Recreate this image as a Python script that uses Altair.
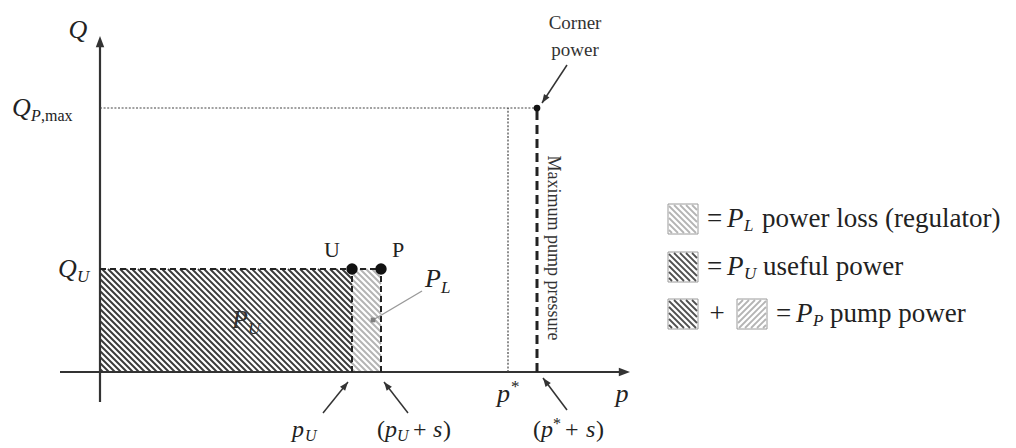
import altair as alt
import numpy as np
import pandas as pd

# Operating-point values, in drawing units (1 unit = 1 px on both axes)
p_U = 252       # load pressure p_U
s = 29          # regulator pressure margin s
p_star = 408    # pressure setting p*
Q_U = 103       # load flow Q_U
Q_Pmax = 264    # maximum pump flow Q_P,max

FONT = "Liberation Serif"
INK = "#222222"

X_DOMAIN = [-100, 916]
Y_DOMAIN = [-76, 372]


def xenc(field="x"):
    return alt.X(f"{field}:Q", scale=alt.Scale(domain=X_DOMAIN, nice=False, zero=False), axis=None)


def yenc(field="y"):
    return alt.Y(f"{field}:Q", scale=alt.Scale(domain=Y_DOMAIN, nice=False, zero=False), axis=None)


def hatch(x0, x1, y0, y1, step, slope):
    """Diagonal hatch segments clipped to a rectangle (slope -1 draws \\\\, +1 draws ///)."""
    rows = []
    if slope < 0:
        for c in np.arange(x0 + y0 + step / 2, x1 + y1, step):
            xa, xb = max(x0, c - y1), min(x1, c - y0)
            if xb > xa:
                rows.append({"x": xa, "y": c - xa, "x2": xb, "y2": c - xb})
    else:
        for c in np.arange(y0 - x1 + step / 2, y1 - x0, step):
            xa, xb = max(x0, y0 - c), min(x1, y1 - c)
            if xb > xa:
                rows.append({"x": xa, "y": c + xa, "x2": xb, "y2": c + xb})
    return pd.DataFrame(rows)


def segments(df, color, width, dash=None, cap="butt"):
    kw = dict(color=color, strokeWidth=width, strokeCap=cap)
    if dash:
        kw["strokeDash"] = dash
    return alt.Chart(df).mark_rule(**kw).encode(
        x=xenc("x"), y=yenc("y"), x2="x2:Q", y2="y2:Q"
    )


layers = []

# --- hatched power areas -------------------------------------------------
DARK_HATCH = "#3a3a3a"
LIGHT_HATCH = "#b4b4b4"
layers.append(segments(hatch(0, p_U, 0, Q_U, 6, -1), DARK_HATCH, 1.9))
layers.append(segments(hatch(p_U, p_U + s, 0, Q_U, 6, -1), LIGHT_HATCH, 1.9))

# --- axes ----------------------------------------------------------------
axes = pd.DataFrame([
    {"x": 0, "y": -30, "x2": 0, "y2": 326},        # Q axis
    {"x": -40, "y": 0, "x2": 520, "y2": 0},        # p axis
])
layers.append(segments(axes, "#333333", 2.2))

# --- operating point construction lines -----------------------------------
dashed = pd.DataFrame([
    {"x": 0, "y": Q_U, "x2": p_U + s, "y2": Q_U},
    {"x": p_U, "y": 0, "x2": p_U, "y2": Q_U},
    {"x": p_U + s, "y": 0, "x2": p_U + s, "y2": Q_U},
])
layers.append(segments(dashed, INK, 2, dash=[6, 4]))

max_line = pd.DataFrame([{"x": p_star + s, "y": 0, "x2": p_star + s, "y2": Q_Pmax}])
layers.append(segments(max_line, INK, 3, dash=[9, 5]))

dotted = pd.DataFrame([
    {"x": 0, "y": Q_Pmax, "x2": p_star + s, "y2": Q_Pmax},
    {"x": p_star, "y": 0, "x2": p_star, "y2": Q_Pmax},
])
layers.append(segments(dotted, "#444444", 1.2, dash=[2, 1.6]))

# --- pointer arrows ------------------------------------------------------
arrows = pd.DataFrame([
    {"x": p_U - 29, "y": -41, "x2": p_U - 4, "y2": -10},
    {"x": p_U + s + 27, "y": -41, "x2": p_U + s + 3, "y2": -10},
    {"x": p_star + s + 30, "y": -38, "x2": p_star + s + 6, "y2": -6},
    {"x": p_star + s + 30, "y": Q_Pmax + 43, "x2": p_star + s + 5, "y2": Q_Pmax + 5},
])
layers.append(segments(arrows, "#333333", 1.5))

heads = arrows.rename(columns={"x2": "hx", "y2": "hy"})[["x", "y", "hx", "hy"]].copy()
heads["ang"] = (np.degrees(np.arctan2(heads["hx"] - heads["x"], heads["hy"] - heads["y"])) + 360) % 360
axis_heads = pd.DataFrame([
    {"hx": 0, "hy": 336, "ang": 0.0},
    {"hx": 530, "hy": 0, "ang": 90.0},
])
HEAD = "M0,0L0.38,1L-0.38,1Z"
layers.append(
    alt.Chart(heads).mark_point(shape=HEAD, filled=True, color="#333333", opacity=1, size=300).encode(
        x=xenc("hx"), y=yenc("hy"), angle=alt.Angle("ang:Q", scale=None)
    )
)
layers.append(
    alt.Chart(axis_heads).mark_point(shape=HEAD, filled=True, color="#333333", opacity=1, size=500).encode(
        x=xenc("hx"), y=yenc("hy"), angle=alt.Angle("ang:Q", scale=None)
    )
)

# P_L leader line
leader = pd.DataFrame([{"x": p_U + s + 41, "y": Q_U - 22, "x2": p_U + 21, "y2": Q_U - 51}])
layers.append(segments(leader, "#9a9a9a", 1.4))
layers.append(
    alt.Chart(leader).mark_square(color="#808080", opacity=1, size=22).encode(x=xenc("x2"), y=yenc("y2"))
)

# --- operating points ----------------------------------------------------
pts = pd.DataFrame([
    {"x": p_U, "y": Q_U},
    {"x": p_U + s, "y": Q_U},
])
layers.append(alt.Chart(pts).mark_circle(color="#111111", opacity=1, size=130).encode(x=xenc(), y=yenc()))
corner = pd.DataFrame([{"x": p_star + s, "y": Q_Pmax}])
layers.append(alt.Chart(corner).mark_circle(color="#111111", opacity=1, size=45).encode(x=xenc(), y=yenc()))

# --- legend swatches -----------------------------------------------------
SW = 30
rows_y = [153, 105, 58]
swatches = [
    (568, rows_y[0], LIGHT_HATCH, -1),
    (568, rows_y[1], "#505050", -1),
    (568, rows_y[2], "#505050", -1),
    (637, rows_y[2], LIGHT_HATCH, 1),
]
for sx, sy, col, sl in swatches:
    box = pd.DataFrame([{"x": sx, "y": sy - SW / 2, "x2": sx + SW, "y2": sy + SW / 2}])
    layers.append(
        alt.Chart(box).mark_rect(fill="white", stroke="#9a9a9a", strokeWidth=1).encode(
            x=xenc("x"), y=yenc("y"), x2="x2:Q", y2="y2:Q"
        )
    )
    layers.append(segments(hatch(sx + 1, sx + SW - 1, sy - SW / 2 + 1, sy + SW / 2 - 1, 6, sl), col, 1.8))

# --- text ----------------------------------------------------------------
T = []


def put(t, x, y, fs, it=True, al="left", c=INK, a=0):
    T.append({"t": t, "x": x, "y": y, "fs": fs, "it": it, "al": al, "c": c, "a": a})


MAIN, SUB = 26, 17
LOW, LOWSUB = 24, 16
BY = -58          # baseline row of the pressure labels under the axis
# axis names
put("Q", -22, 342, MAIN, al="center")
put("p", 522, -22, MAIN, al="center")
# flow levels
put("Q", -88, Q_Pmax, MAIN)
put("P", -69, Q_Pmax - 8, 16)
put(",max", -59, Q_Pmax - 8, 16, it=False)
put("Q", -42, Q_U, MAIN)
put("U", -23, Q_U - 8, SUB)
# point names
put("U", p_U - 20, Q_U + 19, 22, it=False, al="center")
put("P", p_U + s + 17, Q_U + 19, 22, it=False, al="center")
# area names
put("P", p_U + s + 44, Q_U - 10, MAIN)
put("L", p_U + s + 60, Q_U - 19, SUB)
put("P", 132, 52, MAIN, c="#333333")
put("U", 148, 43, SUB, c="#333333")
# pressure marks
put("p", p_star - 11, -22, MAIN)
put("*", p_star + 3, -15, SUB, it=False)
put("p", p_U - 60, BY, LOW)
put("U", p_U - 47, BY - 6, LOWSUB)
put("(", p_U + 25, BY, LOW, it=False)
put("p", p_U + 33, BY, LOW)
put("U", p_U + 45, BY - 6, LOWSUB)
put("+", p_U + 61, BY, LOW, it=False)
put("s", p_U + 81, BY, LOW)
put(")", p_U + 91, BY, LOW, it=False)
put("(", p_star + 25, BY, LOW, it=False)
put("p", p_star + 33, BY, LOW)
put("*", p_star + 45, BY + 6, LOWSUB, it=False)
put("+", p_star + 57, BY, LOW, it=False)
put("s", p_star + 78, BY, LOW)
put(")", p_star + 88, BY, LOW, it=False)
# callouts
put("Corner", p_star + s + 38, Q_Pmax + 85, 19, it=False, al="center", c="#333333")
put("power", p_star + s + 38, Q_Pmax + 58, 19, it=False, al="center", c="#333333")
put("Maximum pump pressure", p_star + s + 16, Q_Pmax / 2 - 8, 18, it=False, al="center", c="#333333", a=90)
# legend
LEG = 27
put("=", 607, rows_y[0], LEG, it=False)
put("P", 627, rows_y[0], LEG)
put("L", 644, rows_y[0] - 7, SUB)
put("power loss (regulator)", 662, rows_y[0], LEG, it=False)
put("=", 607, rows_y[1], LEG, it=False)
put("P", 627, rows_y[1], LEG)
put("U", 644, rows_y[1] - 7, SUB)
put("useful power", 663, rows_y[1], LEG, it=False)
put("+", 617, rows_y[2], LEG, it=False, al="center")
put("=", 676, rows_y[2], LEG, it=False)
put("P", 696, rows_y[2], LEG)
put("P", 713, rows_y[2] - 7, SUB)
put("pump power", 730, rows_y[2], LEG, it=False)

text_df = pd.DataFrame(T)
for (it, al), grp in text_df.groupby(["it", "al"]):
    layers.append(
        alt.Chart(grp).mark_text(
            font=FONT, fontStyle="italic" if it else "normal", align=al, baseline="middle"
        ).encode(
            x=xenc(), y=yenc(), text="t:N",
            size=alt.Size("fs:Q", scale=None),
            color=alt.Color("c:N", scale=None),
            angle=alt.Angle("a:Q", scale=None),
        )
    )

chart = alt.layer(*layers).properties(
    width=1016, height=448,
    autosize=alt.AutoSizeParams(type="none"),
    padding=0,
    background="white",
).configure_view(stroke=None)

chart.save("out.html", embed_options={"renderer": "svg", "actions": False})
